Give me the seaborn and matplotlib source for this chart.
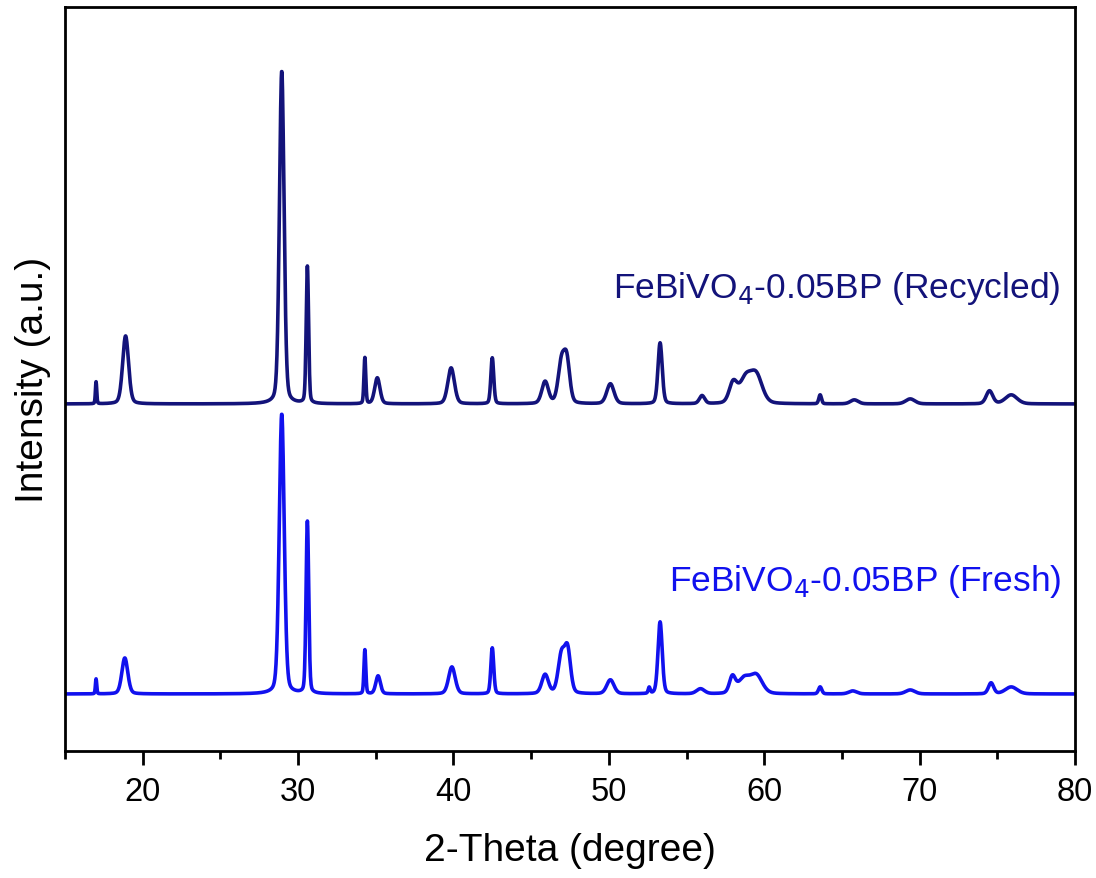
import numpy as np
import pandas as pd
import matplotlib.pyplot as plt
import seaborn as sns
from matplotlib.ticker import MultipleLocator, NullLocator

# Peak lists (position in degrees, height and FWHM in axis units)
FRESH_POS = [17.0, 18.85, 28.95, 30.6, 34.3, 35.15, 39.9, 42.5, 45.9, 46.95, 47.35,
             50.1, 52.6, 53.3, 55.9, 57.95, 58.7, 59.5, 63.6, 65.7, 69.4, 74.6, 75.9]
FRESH_HT = [15, 36, 280, 172, 44, 18, 27, 46, 19, 38, 42,
            14, 6, 72, 5, 16, 15, 18, 7, 3, 4, 11, 7]
FRESH_W = [0.1, 0.45, 0.38, 0.2, 0.14, 0.35, 0.5, 0.22, 0.5, 0.5, 0.45,
           0.55, 0.15, 0.32, 0.6, 0.45, 0.9, 0.9, 0.25, 0.6, 0.7, 0.4, 0.9]

RECYCLED_POS = [17.0, 18.9, 28.95, 30.6, 34.3, 35.1, 39.85, 42.5, 45.9, 46.95, 47.3,
                50.1, 53.3, 56.0, 58.0, 58.8, 59.5, 63.6, 65.8, 69.4, 74.5, 75.9]
RECYCLED_HT = [22, 68, 333, 137, 46, 26, 36, 46, 22, 40, 40,
               20, 61, 8, 20, 24, 27, 9, 4, 5, 13, 9]
RECYCLED_W = [0.1, 0.45, 0.35, 0.18, 0.14, 0.4, 0.5, 0.22, 0.5, 0.5, 0.45,
              0.55, 0.32, 0.4, 0.6, 0.9, 0.9, 0.2, 0.6, 0.7, 0.5, 0.9]

FRESH_BASE = 57
RECYCLED_BASE = 347

LABELS = ["FeBiVO$_4$-0.05BP (Fresh)", "FeBiVO$_4$-0.05BP (Recycled)"]
COLORS = ["#1111ee", "#13137a"]

TWO_THETA = np.arange(15, 80.001, 0.02)


# pseudo-Voigt peak profile summed over the peak list
def build_pattern(positions, heights, widths, base):
    y = np.full_like(TWO_THETA, float(base))
    for p, h, w in zip(positions, heights, widths):
        g = np.exp(-4 * np.log(2) * ((TWO_THETA - p) / w) ** 2)
        lor = 1 / (1 + 4 * ((TWO_THETA - p) / w) ** 2)
        y += h * (0.75 * g + 0.25 * lor)
    return y


fresh = build_pattern(FRESH_POS, FRESH_HT, FRESH_W, FRESH_BASE)
recycled = build_pattern(RECYCLED_POS, RECYCLED_HT, RECYCLED_W, RECYCLED_BASE)

df = pd.concat([
    pd.DataFrame({"2theta": TWO_THETA, "intensity": fresh, "sample": LABELS[0]}),
    pd.DataFrame({"2theta": TWO_THETA, "intensity": recycled, "sample": LABELS[1]}),
])

sns.set_style("ticks")
plt.rcParams["font.family"] = ["Liberation Sans", "DejaVu Sans"]

fig = plt.figure(figsize=(10.96, 8.79), dpi=100)
ax = fig.add_axes([0.0593, 0.1445, 0.9215, 0.8465])

sns.lineplot(data=df, x="2theta", y="intensity", hue="sample",
             palette=dict(zip(LABELS, COLORS)), estimator=None, sort=False,
             linewidth=2.6, legend=False, ax=ax)

ax.set_xlim(15, 80)
ax.set_ylim(0, 744)
ax.xaxis.set_major_locator(MultipleLocator(10))
ax.xaxis.set_minor_locator(MultipleLocator(5))
ax.yaxis.set_major_locator(NullLocator())
ax.tick_params(axis="x", which="major", length=10, width=2, labelsize=23.5,
               direction="out", pad=8, colors="black")
ax.tick_params(axis="x", which="minor", length=6, width=2, direction="out", colors="black")
for s in ax.spines.values():
    s.set_linewidth(2)
    s.set_color("black")

ax.set_xlabel("2-Theta (degree)", fontsize=28, labelpad=18, color="black")
ax.set_ylabel("Intensity (a.u.)", fontsize=28, labelpad=10, color="black")

ax.text(79.05, 463, LABELS[1], color=COLORS[1], fontsize=25.5, ha="right", va="center")
ax.text(79.1, 170, LABELS[0], color=COLORS[0], fontsize=25.5, ha="right", va="center")

fig.savefig("out.png", dpi=100)
